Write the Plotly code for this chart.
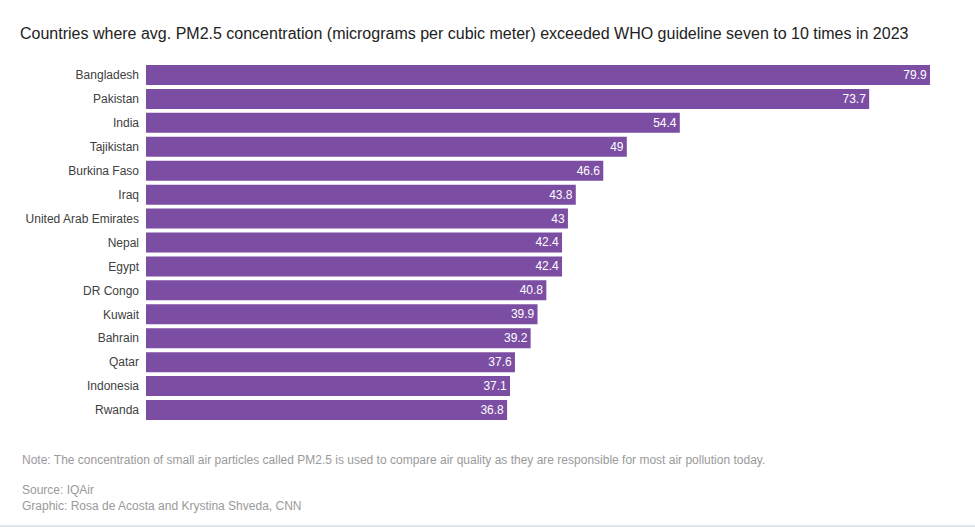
import plotly.graph_objects as go

countries = ["Bangladesh", "Pakistan", "India", "Tajikistan", "Burkina Faso", "Iraq",
             "United Arab Emirates", "Nepal", "Egypt", "DR Congo", "Kuwait", "Bahrain",
             "Qatar", "Indonesia", "Rwanda"]
values = [79.9, 73.7, 54.4, 49, 46.6, 43.8, 43, 42.4, 42.4, 40.8, 39.9, 39.2, 37.6, 37.1, 36.8]
value_labels = ["79.9", "73.7", "54.4", "49", "46.6", "43.8", "43", "42.4", "42.4", "40.8",
                "39.9", "39.2", "37.6", "37.1", "36.8"]

title = "Countries where avg. PM2.5 concentration (micrograms per cubic meter) exceeded WHO guideline seven to 10 times in 2023"
note = "Note: The concentration of small air particles called PM2.5 is used to compare air quality as they are responsible for most air pollution today."
source = "Source: IQAir"
graphic = "Graphic: Rosa de Acosta and Krystina Shveda, CNN"

W, H = 975, 527
ml, mr, mt, mb = 146, 44, 63, 105
pw = W - ml - mr
font = "Liberation Sans, Arial, sans-serif"

fig = go.Figure(go.Bar(
    x=values, y=countries, orientation="h",
    marker=dict(color="#7b4ea3", line=dict(width=0)),
    text=value_labels, textposition="inside", insidetextanchor="end", textangle=0,
    textfont=dict(color="white", size=12, family=font),
    hoverinfo="skip",
))

ph = H - mt - mb
def ypix(py):
    return -(py - (H - mb)) / ph

fig.update_layout(
    width=W, height=H,
    margin=dict(l=ml, r=mr, t=mt, b=mb),
    paper_bgcolor="white", plot_bgcolor="white",
    bargap=0.165,
    showlegend=False,
    font=dict(family=font, color="#333333", size=12),
    title=dict(text=title, x=20 / W, xref="container", xanchor="left",
               y=1 - 33 / H, yref="container", yanchor="middle",
               font=dict(size=16, color="#222222", family=font)),
    xaxis=dict(range=[0, 80], visible=False, fixedrange=True),
    yaxis=dict(autorange="reversed", showgrid=False, showline=False, zeroline=False,
               ticks="", ticklabelstandoff=6, fixedrange=True,
               tickfont=dict(size=12, color="#404040", family=font)),
    annotations=[
        dict(text=note, xref="paper", yref="paper", x=-(ml - 20) / pw, y=ypix(460),
             xanchor="left", yanchor="middle", showarrow=False,
             font=dict(size=12, color="#9a9a9a", family=font)),
        dict(text=source, xref="paper", yref="paper", x=-(ml - 20) / pw, y=ypix(490),
             xanchor="left", yanchor="middle", showarrow=False,
             font=dict(size=12, color="#9a9a9a", family=font)),
        dict(text=graphic, xref="paper", yref="paper", x=-(ml - 20) / pw, y=ypix(506),
             xanchor="left", yanchor="middle", showarrow=False,
             font=dict(size=12, color="#9a9a9a", family=font)),
    ],
    shapes=[
        dict(type="line", xref="paper", yref="paper",
             x0=-ml / pw, x1=(W - ml) / pw,
             y0=ypix(526), y1=ypix(526),
             line=dict(color="#d3e0e4", width=1.5)),
    ],
)

fig.write_html("out.html", config={"displayModeBar": False},
               post_script="document.body.style.margin='0';document.body.style.padding='0';")
